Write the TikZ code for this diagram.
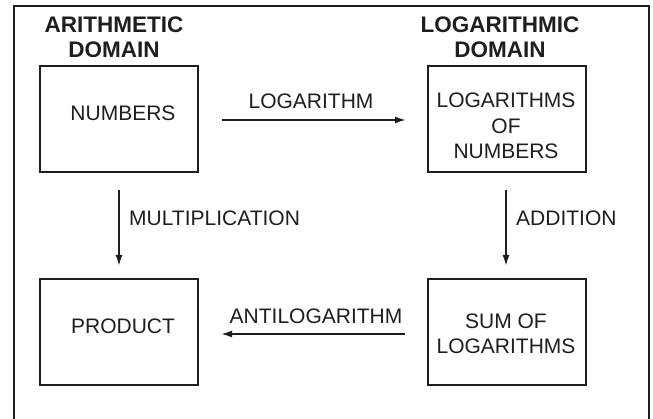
\documentclass[tikz,border=0pt]{standalone}
\usepackage{fontspec}
\setmainfont{Liberation Sans}
\usetikzlibrary{arrows.meta}
\definecolor{ink}{HTML}{1E1E1E}
\tikzset{
  box/.style={draw=ink, line width=2pt, minimum width=158pt, minimum height=106pt, inner sep=0pt},
  txt/.style={font=\fontsize{21}{25.5}\selectfont, text=ink, align=center, inner sep=0pt},
  head/.style={font=\bfseries\fontsize{22.5}{25}\selectfont, text=ink, align=center, inner sep=0pt},
  flow/.style={draw=ink, line width=1.8pt, -{Latex[length=11pt,width=7pt]}}
}
\begin{document}
\begin{tikzpicture}[x=1pt,y=-1pt]
  \useasboundingbox (0,0) rectangle (653,419);
  % open frame: left, top, right sides
  \draw[ink, line width=2pt] (14,419) -- (14,6) -- (649,6) -- (649,419);

  \node[head] (th1) at (114,37) {ARITHMETIC\\DOMAIN};
  \node[head] (th2) at (500,37) {LOGARITHMIC\\DOMAIN};

  % boxes
  \node[box] (num) at (119,119) {};
  \node[box] (lgn) at (507,119) {};
  \node[box] (prd) at (119,332) {};
  \node[box] (sum) at (507,332) {};

  % box captions
  \node[txt] (tnum) at (123,113) {NUMBERS};
  \node[txt] (tlgn) at (506,126) {LOGARITHMS\\OF\\NUMBERS};
  \node[txt] (tprd) at (123,326) {PRODUCT};
  \node[txt] (tsum) at (506,334) {SUM OF\\LOGARITHMS};

  % connectors
  \coordinate (a1) at (222,120);
  \coordinate (a2) at (406,120);
  \draw[flow] (a1) -- (a2);
  \node[txt] (l1) at (311,101) {LOGARITHM};

  \coordinate (b1) at (119,190);
  \coordinate (b2) at (119,266);
  \draw[flow] (b1) -- (b2);
  \node[txt, anchor=west] (l2) at (129,218) {MULTIPLICATION};

  \coordinate (c1) at (506,190);
  \coordinate (c2) at (506,266);
  \draw[flow] (c1) -- (c2);
  \node[txt, anchor=west] (l3) at (516,218) {ADDITION};

  \coordinate (d1) at (405,334);
  \coordinate (d2) at (221,334);
  \draw[flow] (d1) -- (d2);
  \node[txt] (l4) at (316,316) {ANTILOGARITHM};
\end{tikzpicture}
\end{document}
